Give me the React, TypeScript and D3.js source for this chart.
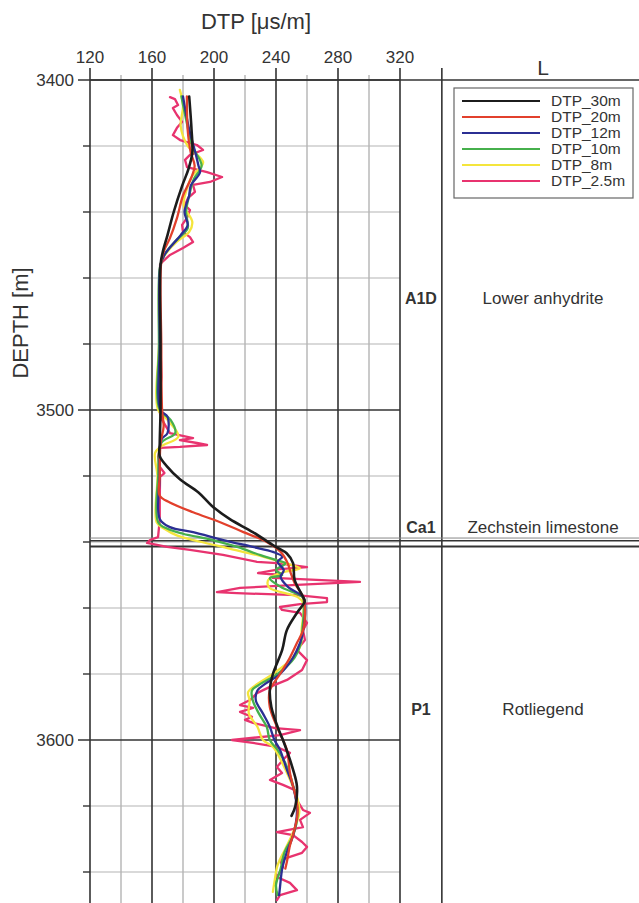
import React from "react";
import * as d3 from "d3";

// DTP sonic log vs depth, six averaging windows
const dtp30m: [number, number][] = [
  [3405, 184], [3415, 185.5], [3422, 186], [3427, 183.5], [3432, 179.5], [3440, 174], [3447, 170],
  [3452, 167], [3456, 165.5], [3480, 165.5], [3500, 165.5], [3510, 165], [3514, 165], [3517, 169.5],
  [3521, 178], [3525, 190], [3529, 198.5], [3533, 210], [3537, 225], [3541.5, 240], [3543.5, 247],
  [3546.4, 251], [3551.5, 252], [3556.7, 257.5], [3558, 258.5], [3561.5, 253.5], [3566.7, 247],
  [3572.7, 244], [3580, 238], [3585, 236], [3590, 237], [3596, 241], [3600, 244.5], [3609, 251],
  [3614, 253.5], [3620, 252.5], [3623, 250],
];

const dtp20m: [number, number][] = [
  [3405, 182.5], [3415, 183], [3422, 185], [3426, 187.5], [3430, 185], [3435, 180], [3442, 176],
  [3448, 171.5], [3451.5, 168], [3455, 166], [3480, 166], [3500, 166.5], [3505, 167.5], [3510, 165.5],
  [3520, 165], [3526, 165], [3528, 171.5], [3531, 186.5], [3534, 204], [3537, 219], [3540, 234],
  [3543, 243], [3546.4, 247.5], [3549.4, 249.5], [3552.4, 252], [3556.7, 257.5], [3560.6, 258.7],
  [3566.7, 257.5], [3570.6, 253.5], [3575, 249], [3580, 242.6], [3585, 236], [3590, 236], [3596, 240.6],
  [3603, 247], [3610, 249], [3621, 254], [3627, 252], [3632, 249], [3637, 247], [3639, 246],
];

const dtp12m: [number, number][] = [
  [3405, 180], [3415, 184], [3422, 188], [3426, 190], [3428, 191], [3432, 185], [3435, 184],
  [3440, 181], [3444, 183], [3447, 178.5], [3450, 173], [3453, 168], [3456, 165.5], [3480, 165],
  [3500, 165.5], [3502, 170], [3507, 170], [3509, 166], [3520, 165], [3533, 165], [3535.5, 171.6],
  [3537, 186.5], [3539.4, 206], [3541.5, 225], [3543, 238], [3544.5, 244], [3546, 241], [3548.5, 245],
  [3550.6, 243], [3553.6, 247.7], [3556.7, 257.6], [3558.5, 258.7], [3566.7, 257.6], [3570.6, 255.5],
  [3575, 251], [3580, 242.6], [3583, 233], [3585, 228], [3588, 227], [3592, 231.6], [3596, 236],
  [3600, 239], [3603, 242.6], [3609, 247], [3614, 251], [3622, 253.5], [3629, 251], [3634, 247],
  [3639, 244], [3644.5, 242.6], [3647, 242],
];

const dtp10m: [number, number][] = [
  [3405, 179], [3412, 182], [3420, 186], [3426, 192], [3430, 187], [3435, 184], [3440, 182],
  [3445, 183], [3448, 177], [3451, 171], [3454, 167], [3457, 165], [3480, 164.5], [3500, 165],
  [3503, 172], [3507, 175], [3510, 166], [3520, 164], [3534, 164], [3536, 170], [3537.5, 180],
  [3539.4, 199], [3541.5, 215], [3544, 230], [3545.5, 240], [3546.5, 246], [3548.5, 240], [3550, 244],
  [3551, 236], [3553.6, 243], [3556.7, 257], [3558.5, 258], [3566.7, 257], [3570.6, 256], [3575, 252],
  [3580, 241], [3583, 230], [3585, 224.5], [3588, 225], [3592, 229], [3596, 234], [3600, 236],
  [3603, 241], [3607, 246], [3612, 250], [3618, 253], [3622, 254], [3629, 251], [3634, 245.5],
  [3639, 243], [3644, 240], [3647, 241],
];

const dtp8m: [number, number][] = [
  [3403, 178], [3408, 180], [3414, 178.5], [3420, 183], [3425, 193], [3429, 186], [3433, 182.5],
  [3438, 180.5], [3443, 186], [3446, 184], [3449, 176], [3452, 170], [3455, 166], [3480, 164.5],
  [3500, 164], [3503, 170], [3508, 177], [3511, 166], [3513, 162], [3520, 163.5], [3534, 163],
  [3536, 168], [3538, 176], [3540, 192], [3542, 210], [3544.5, 232], [3546.4, 246], [3548, 255.5],
  [3549, 246], [3550.7, 236.5], [3552.4, 234.5], [3554, 236], [3556.7, 254], [3558.5, 257.5],
  [3566.7, 256.5], [3571, 256], [3575, 251], [3580, 238], [3583, 228], [3585.5, 222], [3588, 223],
  [3592, 222.5], [3596, 228], [3600, 231.6], [3602, 238], [3606, 243], [3612, 249], [3618, 254],
  [3622, 255], [3628, 251], [3633, 246], [3638, 241], [3643, 239], [3646, 238],
];

const dtp2_5m: [number, number][] = [
  [3405.2, 171.6], [3405.8, 174.8], [3407.6, 176.8], [3408.5, 173.5], [3410.6, 176.1], [3412.7, 179.4],
  [3414.5, 176.1], [3416.7, 173.5], [3418.2, 178.1], [3419.7, 189], [3421.2, 192.9], [3422.7, 184.5],
  [3424.2, 181.3], [3426.4, 182.6], [3427.9, 195.5], [3429.4, 205.2], [3430.9, 197.4], [3431.8, 186.5],
  [3433.9, 187.7], [3435.8, 183.2], [3437.9, 181.3], [3439.4, 184.5], [3441.8, 182.6], [3443.9, 179.4],
  [3446.1, 180], [3447.6, 184.5], [3449.1, 186.5], [3450.9, 180], [3453, 171.6], [3455.2, 166.5],
  [3456, 165.2], [3470, 165], [3490, 166], [3500, 164.5], [3503, 166.5], [3507, 171.6], [3508.5, 186.5],
  [3509.1, 178], [3510, 189], [3510.6, 195.5], [3511.2, 178], [3511.5, 165.2], [3514.2, 163.9],
  [3517.3, 165.2], [3519.1, 168], [3520.3, 165.2], [3527.3, 165], [3533.3, 165], [3538.5, 163.9],
  [3539.4, 158.7], [3540.3, 156.8], [3541.5, 169.7], [3542.4, 184.5], [3543.9, 205.8], [3546, 227.7],
  [3546.4, 240.6], [3547.6, 260], [3548.2, 242.6], [3549.4, 228.4], [3550, 242.6], [3550.9, 238],
  [3552.1, 294.2], [3553, 253.5], [3553.9, 216.8], [3555.2, 201.9], [3555.5, 214.8], [3556.1, 253.5],
  [3557, 272.9], [3558.2, 272.9], [3558.8, 255.5], [3559.7, 242.6], [3560.6, 243.9], [3561.5, 255.5],
  [3564.5, 260], [3566.7, 257.4], [3569.7, 258.7], [3572.7, 253.5], [3575.8, 260], [3578.8, 256.8],
  [3581.8, 247.1], [3583.9, 236.1], [3585.8, 227.7], [3587.9, 223.2], [3589.4, 216.8], [3590.3, 225.2],
  [3591.5, 216.8], [3593, 224.5], [3593.9, 220], [3594.8, 225.2], [3596.4, 239.4], [3597, 255.5],
  [3598.5, 242.6], [3600, 211.6], [3600.9, 225.2], [3602.1, 240.6], [3603.9, 249], [3606, 244.5],
  [3608.2, 240.6], [3610, 243.9], [3612.1, 236.1], [3613.6, 244.5], [3615.2, 252.3], [3618.2, 253.5],
  [3621.2, 257.4], [3622.1, 261.9], [3624.2, 255.5], [3626.4, 257.4], [3627.9, 240.6], [3628.8, 251],
  [3630.9, 256.8], [3632.4, 260], [3634.2, 256.8], [3636.4, 242.6], [3638.5, 244.5], [3641.5, 240.6],
  [3643.3, 249], [3645.5, 253.5], [3647, 242.6], [3648.5, 240.6],
];

const seriesNames = ["DTP_30m", "DTP_20m", "DTP_12m", "DTP_10m", "DTP_8m", "DTP_2.5m"];
const seriesData = [dtp30m, dtp20m, dtp12m, dtp10m, dtp8m, dtp2_5m];
const seriesColors = ["#1c1c1c", "#e2402c", "#2b2f93", "#46b04c", "#f4e53c", "#e8336f"];

const xMajorTicks = [120, 160, 200, 240, 280, 320];
const xMinorTicks = [140, 180, 220, 260, 300];
const depthMajorTicks = [3400, 3500, 3600];

// stratigraphy column
const formationCodes = ["A1D", "Ca1", "P1"];
const formationNames = ["Lower anhydrite", "Zechstein limestone", "Rotliegend"];
const formationLabelDepths = [3466, 3535.5, 3590.5];
const boundaryDepths = [3538.8, 3539.6, 3541.4];

const W = 639;
const H = 903;
const FONT = "'Liberation Sans', Arial, Helvetica, sans-serif";

export default function App() {
  const x = d3.scaleLinear().domain([120, 320]).range([90, 400]);
  const y = d3.scaleLinear().domain([3400, 3650]).range([80, 905]);
  const colEdge = x(347);
  const right = W;
  const bottom = H;
  const depthMinor = d3.range(3420, 3650, 20).filter((d) => d % 100 !== 0);

  const line = d3
    .line<[number, number]>()
    .x((d) => x(d[1]))
    .y((d) => y(d[0]))
    .curve(d3.curveCatmullRom.alpha(0.5));
  const spiky = d3
    .line<[number, number]>()
    .x((d) => x(d[1]))
    .y((d) => y(d[0]))
    .curve(d3.curveLinear);

  const dark = "#333";
  const grey = "#b4b4b4";
  const drawOrder = [5, 4, 3, 2, 1, 0];

  return (
    <svg
      width={W}
      height={H}
      style={{ position: "absolute", left: 0, top: 0, background: "#fff" }}
      fontFamily={FONT}
    >
      <defs>
        <clipPath id="plot">
          <rect x={90} y={80} width={310} height={bottom - 80} />
        </clipPath>
      </defs>

      {/* grid */}
      {depthMinor.map((d) => (
        <line key={"hg" + d} x1={90} x2={400} y1={y(d)} y2={y(d)} stroke={grey} strokeWidth={1.2} />
      ))}
      {xMinorTicks.map((v) => (
        <line key={"vg" + v} x1={x(v)} x2={x(v)} y1={75} y2={bottom} stroke={grey} strokeWidth={1.4} />
      ))}
      {depthMajorTicks.map((d) => (
        <line key={"hm" + d} x1={78} x2={400} y1={y(d)} y2={y(d)} stroke={dark} strokeWidth={1.6} />
      ))}
      {depthMinor.map((d) => (
        <line key={"ht" + d} x1={83} x2={90} y1={y(d)} y2={y(d)} stroke={dark} strokeWidth={1.4} />
      ))}
      {xMajorTicks.map((v) => (
        <line key={"vm" + v} x1={x(v)} x2={x(v)} y1={68} y2={bottom} stroke={dark} strokeWidth={1.6} />
      ))}
      <line x1={colEdge} x2={colEdge} y1={68} y2={bottom} stroke={dark} strokeWidth={1.6} />
      <line x1={90} x2={right} y1={80} y2={80} stroke={dark} strokeWidth={1.6} />

      {/* formation boundaries */}
      <line x1={90} x2={right} y1={y(boundaryDepths[0])} y2={y(boundaryDepths[0])} stroke="#888" strokeWidth={1} />
      <line x1={90} x2={right} y1={y(boundaryDepths[1])} y2={y(boundaryDepths[1])} stroke={dark} strokeWidth={1.4} />
      <line x1={90} x2={right} y1={y(boundaryDepths[2])} y2={y(boundaryDepths[2])} stroke={dark} strokeWidth={2} />

      {/* curves */}
      <g clipPath="url(#plot)" fill="none" strokeLinejoin="round" strokeLinecap="round">
        {drawOrder.map((i) => (
          <path
            key={seriesNames[i]}
            d={(i === 5 ? spiky : line)(seriesData[i]) || ""}
            stroke={seriesColors[i]}
            strokeWidth={i === 0 ? 2.6 : 2.3}
          />
        ))}
      </g>

      {/* axis labels */}
      {xMajorTicks.map((v) => (
        <text key={"xl" + v} x={x(v)} y={63} fontSize={17} textAnchor="middle" fill="#333">
          {v}
        </text>
      ))}
      {depthMajorTicks.map((d) => (
        <text key={"yl" + d} x={74} y={y(d) + 6} fontSize={17} textAnchor="end" fill="#333">
          {d}
        </text>
      ))}
      <text x={256} y={29} fontSize={22} textAnchor="middle" fill="#333">
        DTP [μs/m]
      </text>
      <text
        transform={`translate(28,${323}) rotate(-90)`}
        fontSize={22}
        textAnchor="middle"
        fill="#333"
      >
        DEPTH [m]
      </text>
      <text x={543} y={75} fontSize={21} textAnchor="middle" fill="#333">
        L
      </text>

      {/* stratigraphy labels */}
      {formationCodes.map((c, i) => (
        <text
          key={c}
          x={(400 + colEdge) / 2}
          y={y(formationLabelDepths[i]) + 6}
          fontSize={16}
          fontWeight="bold"
          textAnchor="middle"
          fill="#333"
        >
          {c}
        </text>
      ))}
      {formationNames.map((n, i) => (
        <text
          key={n}
          x={543}
          y={y(formationLabelDepths[i]) + 6}
          fontSize={17}
          textAnchor="middle"
          fill="#333"
        >
          {n}
        </text>
      ))}

      {/* legend */}
      <rect x={454} y={88} width={179} height={110} fill="#fff" stroke="#666" strokeWidth={1.2} />
      {seriesNames.map((n, i) => (
        <g key={"lg" + n} transform={`translate(0,${101 + i * 16})`}>
          <line x1={462} x2={540} y1={0} y2={0} stroke={seriesColors[i]} strokeWidth={2.2} />
          <text x={551} y={5} fontSize={15.5} fill="#333">
            {n}
          </text>
        </g>
      ))}
    </svg>
  );
}
